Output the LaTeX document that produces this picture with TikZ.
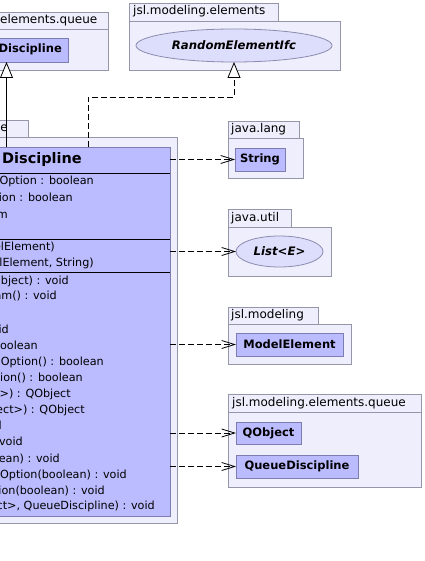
\documentclass[tikz,border=0pt]{standalone}
\usepackage{fontspec}
\setmainfont{DejaVu Sans}
\usetikzlibrary{arrows.meta,shapes.geometric}
\definecolor{pkgfill}{RGB}{238,238,252}
\definecolor{pkgdraw}{RGB}{150,150,170}
\definecolor{clsfill}{RGB}{187,187,255}
\definecolor{clsdraw}{RGB}{125,125,175}
\definecolor{ellfill}{RGB}{221,221,252}
\definecolor{elldraw}{RGB}{140,140,175}
\begin{document}
\begin{tikzpicture}[x=1pt,y=-1pt,
  pkg/.style={draw=pkgdraw,fill=pkgfill,line width=0.8pt,inner sep=0pt,outer sep=0pt,anchor=north west},
  pkglabel/.style={inner sep=0pt,font=\fontsize{12}{14}\selectfont,text height=8.5pt,text depth=2.5pt},
  cls/.style={draw=clsdraw,fill=clsfill,line width=0.8pt,inner sep=0pt,outer sep=0pt,anchor=north west,font=\fontsize{11.5}{13}\bfseries\selectfont},
  ell/.style={ellipse,draw=elldraw,fill=ellfill,line width=0.8pt,inner sep=0pt,outer sep=0pt,font=\fontsize{11.7}{13}\bfseries\itshape\selectfont},
  mtxt/.style={anchor=east,inner sep=0pt,font=\fontsize{11.2}{13}\selectfont,text height=8pt,text depth=2.5pt},
  sepline/.style={draw=black,line width=0.8pt},
  conn/.style={draw=black,line width=0.8pt},
  inh/.style={conn,-{Triangle[length=16pt,width=13pt,fill=white]}},
  real/.style={conn,dash pattern=on 6pt off 3pt,-{Triangle[length=16pt,width=13pt,fill=white]}},
  dep/.style={conn,dash pattern=on 6pt off 3pt,-{Straight Barb[length=13pt,width=8pt]}}
]
\useasboundingbox (0,0) rectangle (424,561);
\clip (0,0) rectangle (424,561);
\fill[white] (0,0) rectangle (424,561);

% top-left package
\node[pkg,minimum width=118pt,minimum height=17pt] (tlTab) at (-10,12) {};
\node[pkg,minimum width=118pt,minimum height=41pt] (tlBody) at (-10,29) {};
\node[pkglabel,anchor=west] (tlLabel) at (0,20.5) {elements.queue};
\node[cls,minimum width=128pt,minimum height=24pt] (tlDisc) at (-60,38) {};
\node[inner sep=0pt,anchor=east,font=\fontsize{11.5}{13}\bfseries\selectfont,text height=8.5pt,text depth=2.5pt] (tlDiscTxt) at (62,50) {Discipline};

% jsl.modeling.elements
\node[pkg,minimum width=149pt,minimum height=18pt] (reTab) at (129,3) {};
\node[pkg,minimum width=211pt,minimum height=49pt] (reBody) at (129,21) {};
\node[pkglabel,anchor=west] (reLabel) at (133,12) {jsl.modeling.elements};
\node[ell,minimum width=196pt,minimum height=33pt] (rnd) at (234,45.5) {RandomElementIfc};

% main package
\node[pkg,minimum width=38pt,minimum height=17pt] (mTab) at (-10,120) {};
\node[pkg,minimum width=187pt,minimum height=386pt] (mBody) at (-10,137) {};
\node[pkglabel,anchor=east] (mLabel) at (8,129) {queue};

% main class
\node[cls,minimum width=230pt,minimum height=369pt] (main) at (-60,147) {};
\draw[sepline] (main.west |- 0,173) -- (main.east |- 0,173);
\draw[sepline] (main.west |- 0,239) -- (main.east |- 0,239);
\draw[sepline] (main.west |- 0,272) -- (main.east |- 0,272);
\node[inner sep=0pt,anchor=east,font=\fontsize{14.5}{16}\bfseries\selectfont,text height=10.5pt,text depth=3pt] (mHead) at (82,160) {Discipline};
\node[mtxt] (a1) at (94,182) {Option : boolean};
\node[mtxt] (a2) at (73,199) {ion : boolean};
\node[mtxt] (a3) at (8,216) {m};
\node[mtxt] (c1) at (55,248) {elElement)};
\node[mtxt] (c2) at (94,264) {elElement, String)};
\node[mtxt] (o1) at (69,282) {bject) : void};
\node[mtxt] (o2) at (57,297) {am() : void};
\node[mtxt] (o3) at (9,331) {id};
\node[mtxt] (o4) at (38,347) {oolean};
\node[mtxt] (o5) at (104,363) {Option() : boolean};
\node[mtxt] (o6) at (83,379) {ion() : boolean};
\node[mtxt] (o7) at (71,395) {>) : QObject};
\node[mtxt] (o8) at (85,411) {ect>) : QObject};
\node[mtxt] (o9) at (2,427) {void};
\node[mtxt] (o10) at (23,443) {void};
\node[mtxt] (o11) at (60,460) {ean) : void};
\node[mtxt] (o12) at (127,476) {Option(boolean) : void};
\node[mtxt] (o13) at (105,492) {ion(boolean) : void};
\node[mtxt] (o14) at (155,507) {ct>, QueueDiscipline) : void};

% java.lang
\node[pkg,minimum width=71pt,minimum height=17pt] (jlTab) at (228,121) {};
\node[pkg,minimum width=75pt,minimum height=40pt] (jlBody) at (228,138) {};
\node[pkglabel,anchor=west] (jlLabel) at (231,129.5) {java.lang};
\node[cls,minimum width=50pt,minimum height=23pt] (str) at (235,148) {String};

% java.util
\node[pkg,minimum width=63pt,minimum height=18pt] (juTab) at (228,209) {};
\node[pkg,minimum width=103pt,minimum height=49pt] (juBody) at (228,227) {};
\node[pkglabel,anchor=west] (juLabel) at (231,218) {java.util};
\node[ell,minimum width=87pt,minimum height=31pt] (lst) at (279.5,251.5) {List<E>};

% jsl.modeling
\node[pkg,minimum width=90pt,minimum height=17pt] (jmTab) at (228,307) {};
\node[pkg,minimum width=123pt,minimum height=40pt] (jmBody) at (228,324) {};
\node[pkglabel,anchor=west] (jmLabel) at (231,315.5) {jsl.modeling};
\node[cls,minimum width=107pt,minimum height=23pt] (mel) at (236,333) {ModelElement};

% jsl.modeling.elements.queue
\node[pkg,minimum width=193pt,minimum height=18pt] (jqTab) at (228,394) {};
\node[pkg,minimum width=193pt,minimum height=75pt] (jqBody) at (228,412) {};
\node[pkglabel,anchor=west] (jqLabel) at (232,403) {jsl.modeling.elements.queue};
\node[cls,minimum width=65pt,minimum height=22pt] (qob) at (236,422) {QObject};
\node[cls,minimum width=122pt,minimum height=23pt] (qd) at (236,455) {QueueDiscipline};

% connectors
\coordinate (inhFoot) at (6.5,147);
\draw[inh] (inhFoot) -- (inhFoot |- tlDisc.south);
\coordinate (realFoot) at (88,147);
\draw[real] (realFoot) -- ++(0,-50) -| (rnd.south);
\draw[dep] (main.east |- str.west) -- (str.west);
\draw[dep] (main.east |- lst.west) -- (lst.west);
\draw[dep] (main.east |- mel.west) -- (mel.west);
\draw[dep] (main.east |- qob.west) -- (qob.west);
\draw[dep] (main.east |- qd.west) -- (qd.west);
\end{tikzpicture}
\end{document}
